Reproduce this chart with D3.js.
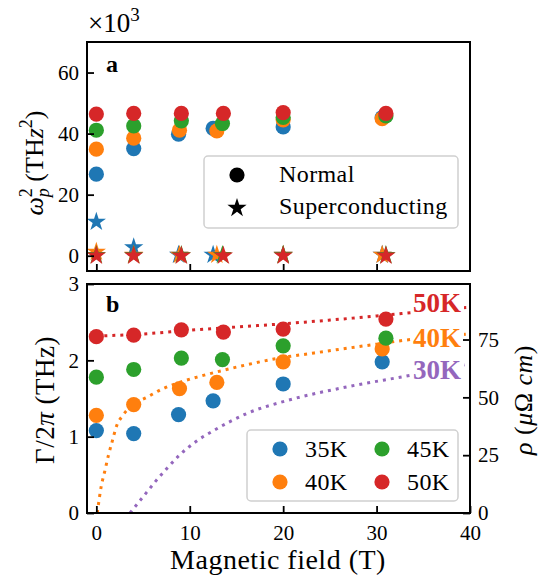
<!DOCTYPE html>
<html><head><meta charset="utf-8">
<script src="https://cdn.jsdelivr.net/npm/d3@7"></script>
<style>
svg text, svg tspan { font-family: "Liberation Serif" !important; }
</style>
</head>
<body style="margin:0;background:#fff"><svg id="chart" width="546" height="579" font-family="Liberation Serif"></svg>
<script>
// ---------- DATA ----------
const temps = ["35K", "40K", "45K", "50K"];
const colors = ["#1f77b4", "#ff7f0e", "#2ca02c", "#d62728"];
const fields35 = [0, 4, 8.8, 12.5, 20, 30.6];
const fields40 = [0, 4, 8.9, 12.9, 20, 30.6];
const fields45 = [0, 4, 9.1, 13.5, 20, 31];
const fields50 = [0, 4, 9.1, 13.6, 20, 31];
// plasma frequency squared (x10^3 THz^2), normal state
const wpNormal35 = [26.7, 35.1, 39.8, 41.7, 42.2, 45.2];
const wpNormal40 = [34.9, 38.5, 41.1, 40.9, 44.5, 44.9];
const wpNormal45 = [41.1, 42.5, 44.2, 43.3, 45.3, 45.8];
const wpNormal50 = [46.4, 46.6, 46.6, 46.6, 46.9, 46.6];
// superconducting state
const wpSC35 = [11.1, 2.7, 0.3, 0.3, 0.3, 0.3];
const wpSC40 = [1.3, 0.3, 0.3, 0.3, 0.3, 0.3];
const wpSC45 = [0.2, 0.2, 0.2, 0.2, 0.2, 0.2];
const wpSC50 = [0, 0, 0, 0, 0, 0];
// scattering rate Gamma/2pi (THz)
const gamma35 = [1.08, 1.04, 1.29, 1.47, 1.69, 1.98];
const gamma40 = [1.28, 1.42, 1.63, 1.71, 1.98, 2.15];
const gamma45 = [1.78, 1.88, 2.03, 2.01, 2.19, 2.29];
const gamma50 = [2.31, 2.33, 2.40, 2.37, 2.41, 2.54];
// resistivity curves (uOhm cm)
const rhoLabels = ["50K", "40K", "30K"];
const rhoColors = ["#d62728", "#ff7f0e", "#9467bd"];
const rhoB50 = [0, 5, 10, 15, 20, 25, 30, 35, 40];
const rho50 = [76.5, 77.4, 79.0, 80.4, 81.8, 83.4, 85.2, 87.1, 89.0];
const rhoB40 = [0.1, 0.5, 0.9, 1.3, 1.7, 2.2, 2.8, 3.8, 5.4, 7, 9, 11, 13.6, 16, 19.6, 23, 26.8, 30, 33.6, 37, 40];
const rho40 = [0, 11, 18, 25, 31, 38, 42, 46.5, 50, 53.5, 56.6, 59, 61.7, 64, 67, 69, 71.2, 73, 75, 76.3, 77.5];
const rhoB30 = [3.6, 4.6, 5.4, 6.4, 7.5, 8.9, 10.7, 12.5, 14.3, 16.1, 20.4, 26.8, 33.6, 40];
const rho30 = [0, 5, 9, 14, 19, 25, 31, 35.5, 39.5, 43, 48.6, 54.5, 59.5, 64.6];
// ticks
const xTicks = [0, 10, 20, 30, 40];
const topYTicks = [0, 20, 40, 60];
const botYTicks = [0, 1, 2, 3];
const rhoTicks = [0, 25, 50, 75];

const FONT = "Liberation Serif";

// ---------- LAYOUT ----------
const svg = d3.select("#chart");
const L = 87, R = 470;
const topP = {t: 42, b: 271};
const botP = {t: 284, b: 513};

const x = d3.scaleLinear().domain([-1, 40]).range([L, R]);
const yTop = d3.scaleLinear().domain([-5, 70]).range([topP.b, topP.t]);
const yBot = d3.scaleLinear().domain([0, 3]).range([botP.b, botP.t]);
const yRho = d3.scaleLinear().domain([0, 99]).range([botP.b, botP.t]);

const fieldsAll = [fields35, fields40, fields45, fields50];
const normalAll = [wpNormal35, wpNormal40, wpNormal45, wpNormal50];
const scAll = [wpSC35, wpSC40, wpSC45, wpSC50];
const gammaAll = [gamma35, gamma40, gamma45, gamma50];

const starPath = d3.symbol().type(d3.symbolStar).size(115);
const R_DOT = 7.6;

svg.append("defs").append("clipPath").attr("id", "clipBot")
  .append("rect").attr("x", L).attr("y", botP.t).attr("width", R - L).attr("height", botP.b - botP.t);

function txt(sel, size) {
  return sel.append("text").attr("font-family", FONT).style("font-family", '"Liberation Serif"')
    .attr("font-size", size).attr("fill", "#000");
}

// ---------- TOP PANEL ----------
const gTop = svg.append("g");
temps.forEach((t, i) => {
  gTop.selectAll(null).data(fieldsAll[i].map((f, j) => [f, normalAll[i][j]])).enter()
    .append("circle").attr("cx", d => x(d[0])).attr("cy", d => yTop(d[1]))
    .attr("r", R_DOT).attr("fill", colors[i]);
});
temps.forEach((t, i) => {
  gTop.selectAll(null).data(fieldsAll[i].map((f, j) => [f, scAll[i][j]])).enter()
    .append("path").attr("d", starPath)
    .attr("transform", d => `translate(${x(d[0])},${yTop(d[1])})`)
    .attr("fill", colors[i]);
});

// top axes
const axTopL = d3.axisLeft(yTop).tickValues(topYTicks).tickSizeInner(-7).tickSizeOuter(0).tickPadding(8).tickFormat(d3.format("d"));
svg.append("g").attr("transform", `translate(${L},0)`).call(axTopL).call(styleAxis);
const axTopB = d3.axisBottom(x).tickValues([0, 10, 20, 30]).tickSizeInner(-7).tickSizeOuter(0).tickFormat("");
svg.append("g").attr("transform", `translate(0,${topP.b})`).call(axTopB).call(styleAxis);
svg.append("rect").attr("x", L).attr("y", topP.t).attr("width", R - L).attr("height", topP.b - topP.t)
  .attr("fill", "none").attr("stroke", "#000").attr("stroke-width", 2);

// x10^3
const mult = txt(svg, 27).attr("x", 88).attr("y", 32);
mult.append("tspan").text("×10");
mult.append("tspan").attr("font-size", 19).attr("dy", -11).text("3");

// panel label a
txt(svg, 24).attr("x", 106).attr("y", 72).attr("font-weight", "bold").text("a");

// top legend
const lg1 = svg.append("g");
lg1.append("rect").attr("x", 204).attr("y", 156).attr("width", 254).attr("height", 72).attr("rx", 4)
  .attr("fill", "#fff").attr("fill-opacity", 0.8).attr("stroke", "#d0d0d0").attr("stroke-width", 1.5);
lg1.append("circle").attr("cx", 237).attr("cy", 175).attr("r", R_DOT).attr("fill", "#000");
lg1.append("path").attr("d", starPath).attr("transform", "translate(237,208)").attr("fill", "#000");
txt(lg1, 24).attr("x", 279).attr("y", 182).attr("letter-spacing", 0.4).text("Normal");
txt(lg1, 24).attr("x", 279).attr("y", 214).attr("letter-spacing", 0.4).text("Superconducting");

// y label top
const ylTop = txt(svg, 26).attr("transform", "translate(43,163) rotate(-90)")
  .attr("text-anchor", "middle");
ylTop.append("tspan").attr("font-style", "italic").text("ω");
ylTop.append("tspan").attr("font-style", "italic").attr("font-size", 18).attr("dy", 6).text("p");
ylTop.append("tspan").attr("font-size", 18).attr("dy", -17).attr("dx", -9).text("2");
ylTop.append("tspan").attr("dy", 11).text(" (TH");
ylTop.append("tspan").attr("font-style", "italic").text("z");
ylTop.append("tspan").attr("font-size", 18).attr("dy", -11).text("2");
ylTop.append("tspan").attr("dy", 11).text(")");

// ---------- BOTTOM PANEL ----------
const gBot = svg.append("g");
const lineGen = d3.line().x(d => x(d[0])).y(d => yRho(d[1])).curve(d3.curveMonotoneX);
const rhoSeries = [[rhoB50, rho50], [rhoB40, rho40], [rhoB30, rho30]];
const curves = gBot.append("g").attr("clip-path", "url(#clipBot)");
rhoSeries.forEach((s, i) => {
  curves.append("path").datum(s[0].map((b, j) => [b, s[1][j]]))
    .attr("d", lineGen).attr("fill", "none").attr("stroke", rhoColors[i])
    .attr("stroke-width", 3).attr("stroke-dasharray", "3,5");
});
temps.forEach((t, i) => {
  gBot.selectAll(null).data(fieldsAll[i].map((f, j) => [f, gammaAll[i][j]])).enter()
    .append("circle").attr("cx", d => x(d[0])).attr("cy", d => yBot(d[1]))
    .attr("r", R_DOT).attr("fill", colors[i]);
});

// curve labels with white boxes
const labY = [303, 338, 370];
rhoLabels.forEach((lab, i) => {
  gBot.append("rect").attr("x", 411).attr("y", labY[i] - 13).attr("width", 53).attr("height", 26).attr("fill", "#fff");
  txt(gBot, 27).attr("x", 437).attr("y", labY[i] + 9).attr("text-anchor", "middle")
    .attr("fill", rhoColors[i]).attr("font-weight", "bold").text(lab);
});

// bottom axes
const axBotL = d3.axisLeft(yBot).tickValues(botYTicks).tickSizeInner(-7).tickSizeOuter(0).tickPadding(8).tickFormat(d3.format("d"));
svg.append("g").attr("transform", `translate(${L},0)`).call(axBotL).call(styleAxis);
const axBotB = d3.axisBottom(x).tickValues(xTicks).tickSizeInner(-7).tickSizeOuter(0).tickPadding(12).tickFormat(d3.format("d"));
svg.append("g").attr("transform", `translate(0,${botP.b})`).call(axBotB).call(styleAxis);
const axRho = d3.axisRight(yRho).tickValues(rhoTicks).tickSizeInner(-7).tickSizeOuter(0).tickPadding(8).tickFormat(d3.format("d"));
svg.append("g").attr("transform", `translate(${R},0)`).call(axRho).call(styleAxis);
svg.append("rect").attr("x", L).attr("y", botP.t).attr("width", R - L).attr("height", botP.b - botP.t)
  .attr("fill", "none").attr("stroke", "#000").attr("stroke-width", 2);

// panel label b
txt(svg, 24).attr("x", 106).attr("y", 312).attr("font-weight", "bold").text("b");

// bottom legend
const lg2 = svg.append("g");
lg2.append("rect").attr("x", 247).attr("y", 430).attr("width", 211).attr("height", 71).attr("rx", 4)
  .attr("fill", "#fff").attr("fill-opacity", 0.8).attr("stroke", "#d0d0d0").attr("stroke-width", 1.5);
const legPos = [[280, 449], [280, 482], [382, 449], [382, 482]];
temps.forEach((t, i) => {
  lg2.append("circle").attr("cx", legPos[i][0]).attr("cy", legPos[i][1]).attr("r", R_DOT).attr("fill", colors[i]);
  txt(lg2, 24).attr("x", legPos[i][0] + 25).attr("y", legPos[i][1] + 8).attr("letter-spacing", 0.4).text(t);
});

// axis labels
const ylBot = txt(svg, 27).attr("transform", "translate(54,400) rotate(-90)")
  .attr("text-anchor", "middle").attr("letter-spacing", 0.5);
ylBot.append("tspan").text("Γ/2");
ylBot.append("tspan").attr("font-style", "italic").text("π");
ylBot.append("tspan").text(" (THz)");

const ylRho = txt(svg, 26).attr("transform", "translate(532,400) rotate(-90)")
  .attr("text-anchor", "middle").attr("letter-spacing", 0.5);
ylRho.append("tspan").attr("font-style", "italic").text("ρ");
ylRho.append("tspan").text(" (");
ylRho.append("tspan").attr("font-style", "italic").text("μ");
ylRho.append("tspan").text("Ω ");
ylRho.append("tspan").attr("font-style", "italic").text("cm");
ylRho.append("tspan").text(")");

txt(svg, 28).attr("x", 278).attr("y", 569).attr("text-anchor", "middle")
  .attr("letter-spacing", 0.5).text("Magnetic field (T)");

function styleAxis(g) {
  g.attr("font-family", FONT).attr("font-size", 21);
  g.select(".domain").remove();
  g.selectAll(".tick line").attr("stroke", "#000").attr("stroke-width", 1.8);
  g.selectAll(".tick text").attr("font-family", FONT).style("font-family", '"Liberation Serif"').attr("fill", "#000");
}
</script></body></html>
